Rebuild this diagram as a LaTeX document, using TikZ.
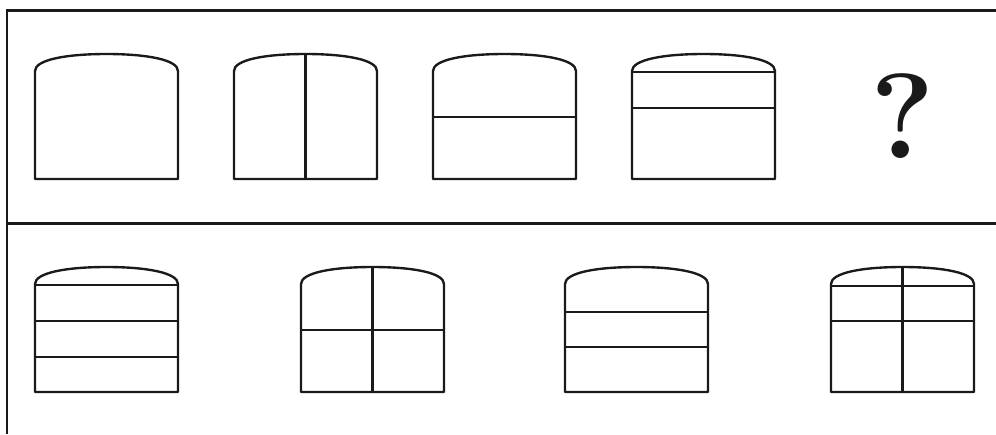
\documentclass[tikz,border=0pt]{standalone}
\usepackage{tikz}
\usetikzlibrary{calc}
\definecolor{tinta}{HTML}{1A1A1A}

\begin{document}
\begin{tikzpicture}[x=0.02cm,y=-0.02cm,
    borde/.style={tinta,line width=1.7pt},
    trazo/.style={tinta,line width=1.35pt,line join=round},
    marco/.pic={\draw[trazo] (0,0) -- (0,-108)
        .. controls (0,-119) and (30,-125) .. (71.5,-125)
        .. controls (113,-125) and (143,-119) .. (143,-108) -- (143,0) -- cycle;}]
  \useasboundingbox (0,0) rectangle (996,434);

  % marco exterior
  \draw[borde] (996,10) -- (7,10) -- (7,434);
  \draw[borde] (7,223) -- (996,223);

  % fila de arriba
  \foreach \x in {35,234,433,632}{
    \pic at (\x,179) {marco};
  }
  \draw[trazo] (305.5,54) -- (305.5,179);
  \draw[trazo] (433,117) -- (575,117);
  \foreach \y in {72,108}{
    \draw[trazo] (632,\y) -- (775,\y);
  }
  \node[font=\bfseries\fontsize{69}{72}\selectfont,text=tinta,inner sep=0pt] (preg) at (903,116.5) {?};

  % opciones
  \foreach \x in {35,301,565,831}{
    \pic at (\x,392) {marco};
  }
  \foreach \y in {285,321,357}{
    \draw[trazo] (35,\y) -- (178,\y);
  }
  \draw[trazo] (372.5,267) -- (372.5,392);
  \draw[trazo] (301,330) -- (444,330);
  \foreach \y in {312,347}{
    \draw[trazo] (565,\y) -- (708,\y);
  }
  \draw[trazo] (902.5,267) -- (902.5,392);
  \foreach \y in {286,321}{
    \draw[trazo] (831,\y) -- (974,\y);
  }
\end{tikzpicture}
\end{document}
